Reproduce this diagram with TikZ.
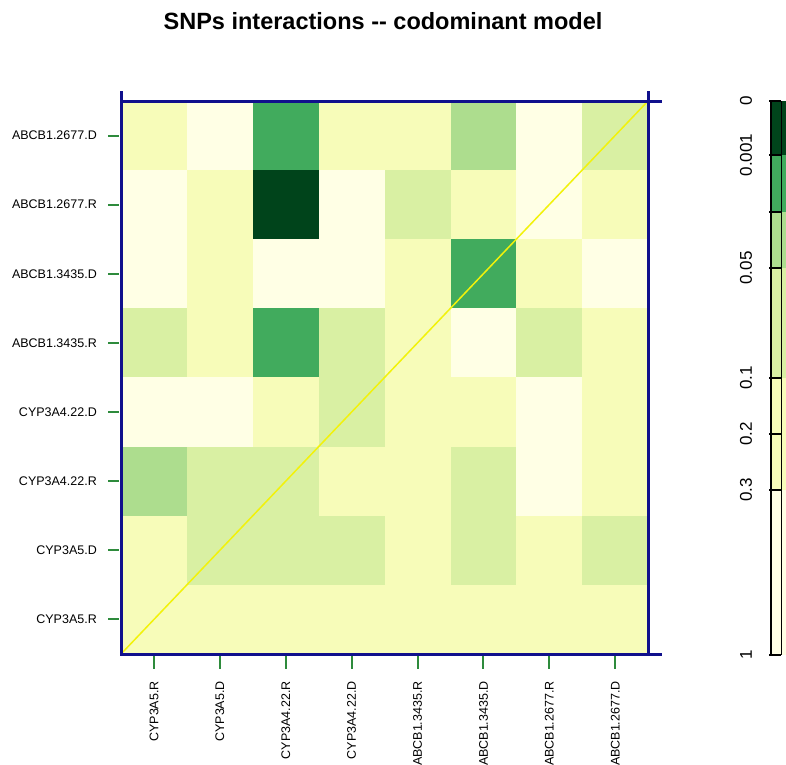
\documentclass[tikz,border=0pt]{standalone}
\usepackage{fontspec}
\setmainfont{Liberation Sans}
\usepackage{xcolor}
\usetikzlibrary{positioning}
\definecolor{ygA}{HTML}{FFFFE5}
\definecolor{ygB}{HTML}{F7FCB9}
\definecolor{ygC}{HTML}{D9F0A3}
\definecolor{ygD}{HTML}{ADDD8E}
\definecolor{ygE}{HTML}{41AB5D}
\definecolor{ygF}{HTML}{00441B}
\definecolor{frameblue}{HTML}{10108C}
\definecolor{tickgreen}{HTML}{2E8B3C}
\definecolor{diagyellow}{HTML}{F2F20A}

\begin{document}
\begin{tikzpicture}[x=1pt,y=-1pt,
    lab/.style={font=\fontsize{12.5}{14}\selectfont,inner sep=0pt},
    barlab/.style={font=\fontsize{17}{19}\selectfont,rotate=90,inner sep=0pt},
    tk/.style={tickgreen,line width=2pt},
    frm/.style={frameblue,line width=3pt}]
        \useasboundingbox (0,0) rectangle (786,764);
        \node[font=\bfseries\fontsize{23.5}{26}\selectfont,inner sep=0pt] (title) at (383,21) {SNPs interactions -{}- codominant model};
        \foreach \r/\vals in {1/{B,A,E,B,B,D,A,C},2/{A,B,F,A,C,B,A,B},3/{A,B,A,A,B,E,B,A},4/{C,B,E,C,B,A,C,B},5/{A,A,B,C,B,B,A,B},6/{D,C,C,B,B,C,A,B},7/{B,C,C,C,B,C,B,C},8/{B,B,B,B,B,B,B,B}}
            \foreach \v [count=\c] in \vals
                \fill[yg\v] ({121+(\c-1)*65.9},{101+(\r-1)*69.1}) rectangle ({121+\c*65.9},{101+\r*69.1});
        \coordinate (bl) at (121,654);
        \coordinate (tr) at (648,101);
        \draw[diagyellow,line width=1.5pt] (bl) -- (tr);
        \draw[frm] (121,91) -- (bl) -- (662,654);
        \draw[frm] (121,101) -- (662,101);
        \draw[frm] (648,91) -- (648,654);
        \foreach \snp [count=\r] in {ABCB1.2677.D,ABCB1.2677.R,ABCB1.3435.D,ABCB1.3435.R,CYP3A4.22.D,CYP3A4.22.R,CYP3A5.D,CYP3A5.R}{
            \node[lab,anchor=east] (row\r) at (97,{101+(\r-0.5)*69.1}) {\snp};
            \draw[tk] (108,{101+(\r-0.5)*69.1}) -- (119,{101+(\r-0.5)*69.1});
        }
        \foreach \snp [count=\c] in {CYP3A5.R,CYP3A5.D,CYP3A4.22.R,CYP3A4.22.D,ABCB1.3435.R,ABCB1.3435.D,ABCB1.2677.R,ABCB1.2677.D}{
            \node[lab,rotate=90,anchor=east] (col\c) at ({121+(\c-0.5)*65.9},681) {\snp};
            \draw[tk] ({121+(\c-0.5)*65.9},656) -- ({121+(\c-0.5)*65.9},669);
        }
        \foreach \ya/\yb/\cc in {101/155/F,155/212/E,212/268/D,268/378/C,378/490/B,490/655/A}
            \fill[yg\cc] (771,\ya) rectangle (786,\yb);
        \draw[line width=1.5pt] (771,101) -- (771,655);
        \draw[line width=0.8pt] (781,101) -- (781,655);
        \foreach \yy/\txt [count=\k] in {101/0,155/0.001,212/,268/0.05,378/0.1,434/0.2,490/0.3,655/1}{
            \draw[line width=1.2pt] (769,\yy) -- (781,\yy);
            \node[barlab] (key\k) at (746,\yy) {\txt};
        }
    \end{tikzpicture}
\end{document}
